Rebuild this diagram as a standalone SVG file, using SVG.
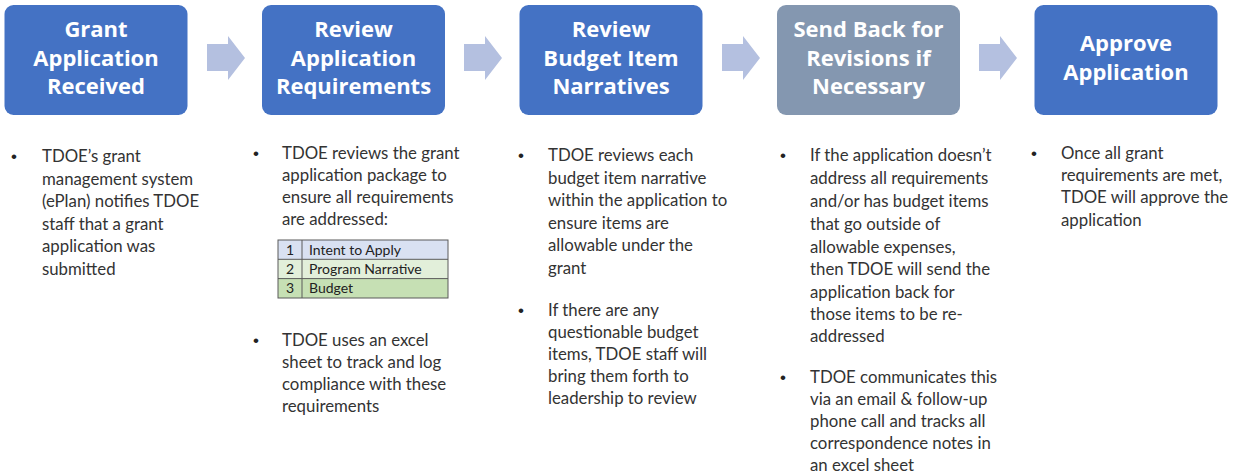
<svg xmlns="http://www.w3.org/2000/svg" width="1237" height="475" viewBox="0 0 1237 475">
<defs>
<style>
.box{fill:#4472C4;}
.box.gray{fill:#8497B0;}
.title{font-family:"Open Sans","Liberation Sans",sans-serif;font-weight:700;font-size:22px;fill:#FFFFFF;text-anchor:middle;}
.body{font-family:Lato,"Liberation Sans",sans-serif;font-size:16.8px;fill:#333333;}
.bul{font-family:"Liberation Sans",sans-serif;font-size:17px;fill:#222222;}
.arrow{fill:#B4C0E0;}
.cell{font-family:Lato,"Liberation Sans",sans-serif;font-size:14px;fill:#222222;}
.grid{fill:none;stroke:#5A5A5A;stroke-width:1;}
</style>
<path id="arr" d="M0,8 H21 V0 L38,22 L21,44 V35 H0 Z"/>
</defs>
<rect width="1237" height="475" fill="#FFFFFF"/>

<g id="connectors">
<use href="#arr" class="arrow" x="207" y="36"/>
<use href="#arr" class="arrow" x="464" y="36"/>
<use href="#arr" class="arrow" x="722" y="36"/>
<use href="#arr" class="arrow" x="979" y="36"/>
</g>

<g id="node1">
<rect class="box" x="4.5" y="5" width="183" height="110" rx="9"/>
<text class="title" x="96" y="37">Grant</text>
<text class="title" x="96" y="66">Application</text>
<text class="title" x="96" y="94">Received</text>
</g>
<g id="node2">
<rect class="box" x="262" y="5" width="183" height="110" rx="9"/>
<text class="title" x="353.5" y="37">Review</text>
<text class="title" x="353.5" y="66">Application</text>
<text class="title" x="353.5" y="94">Requirements</text>
</g>
<g id="node3">
<rect class="box" x="519.5" y="5" width="183" height="110" rx="9"/>
<text class="title" x="611" y="37">Review</text>
<text class="title" x="611" y="66">Budget Item</text>
<text class="title" x="611" y="94">Narratives</text>
</g>
<g id="node4">
<rect class="box gray" x="777" y="5" width="183" height="110" rx="9"/>
<text class="title" x="868.5" y="37">Send Back for</text>
<text class="title" x="868.5" y="66">Revisions if</text>
<text class="title" x="868.5" y="94">Necessary</text>
</g>
<g id="node5">
<rect class="box" x="1034.5" y="5" width="183" height="110" rx="9"/>
<text class="title" x="1126" y="51">Approve</text>
<text class="title" x="1126" y="80">Application</text>
</g>

<g id="desc1">
<text class="bul" x="11" y="162">•</text>
<text class="body" x="42" y="162">TDOE’s grant</text>
<text class="body" x="42" y="184.5">management system</text>
<text class="body" x="42" y="207">(ePlan) notifies TDOE</text>
<text class="body" x="42" y="229.5">staff that a grant</text>
<text class="body" x="42" y="252">application was</text>
<text class="body" x="42" y="274.5">submitted</text>
</g>

<g id="desc2">
<text class="bul" x="253" y="159">•</text>
<text class="body" x="282" y="159">TDOE reviews the grant</text>
<text class="body" x="282" y="181">application package to</text>
<text class="body" x="282" y="203">ensure all requirements</text>
<text class="body" x="282" y="225">are addressed:</text>
<g id="table">
<rect x="278" y="240" width="170" height="19.3" fill="#D9E1F2"/>
<rect x="278" y="259.3" width="170" height="19.3" fill="#E2EFDA"/>
<rect x="278" y="278.6" width="170" height="19.4" fill="#C6E0B4"/>
<rect class="grid" x="278" y="240" width="170" height="58"/>
<line class="grid" x1="278" y1="259.3" x2="448" y2="259.3"/>
<line class="grid" x1="278" y1="278.6" x2="448" y2="278.6"/>
<line class="grid" x1="302" y1="240" x2="302" y2="298"/>
<text class="cell" x="290" y="254.5" text-anchor="middle">1</text>
<text class="cell" x="290" y="273.8" text-anchor="middle">2</text>
<text class="cell" x="290" y="293.1" text-anchor="middle">3</text>
<text class="cell" x="309" y="254.5">Intent to Apply</text>
<text class="cell" x="309" y="273.8">Program Narrative</text>
<text class="cell" x="309" y="293.1">Budget</text>
</g>
<text class="bul" x="253" y="346">•</text>
<text class="body" x="282" y="346">TDOE uses an excel</text>
<text class="body" x="282" y="368">sheet to track and log</text>
<text class="body" x="282" y="390">compliance with these</text>
<text class="body" x="282" y="412">requirements</text>
</g>

<g id="desc3">
<text class="bul" x="518" y="161">•</text>
<text class="body" x="548" y="161">TDOE reviews each</text>
<text class="body" x="548" y="183.5">budget item narrative</text>
<text class="body" x="548" y="206">within the application to</text>
<text class="body" x="548" y="228.5">ensure items are</text>
<text class="body" x="548" y="251">allowable under the</text>
<text class="body" x="548" y="273.5">grant</text>
<text class="bul" x="518" y="316">•</text>
<text class="body" x="548" y="316">If there are any</text>
<text class="body" x="548" y="338">questionable budget</text>
<text class="body" x="548" y="360">items, TDOE staff will</text>
<text class="body" x="548" y="382">bring them forth to</text>
<text class="body" x="548" y="404">leadership to review</text>
</g>

<g id="desc4">
<text class="bul" x="780" y="161">•</text>
<text class="body" x="810" y="161">If the application doesn’t</text>
<text class="body" x="810" y="184">address all requirements</text>
<text class="body" x="810" y="207">and/or has budget items</text>
<text class="body" x="810" y="230">that go outside of</text>
<text class="body" x="810" y="252.5">allowable expenses,</text>
<text class="body" x="810" y="275">then TDOE will send the</text>
<text class="body" x="810" y="297.5">application back for</text>
<text class="body" x="810" y="319.5">those items to be re-</text>
<text class="body" x="810" y="341.5">addressed</text>
<text class="bul" x="780" y="383">•</text>
<text class="body" x="810" y="383">TDOE communicates this</text>
<text class="body" x="810" y="405">via an email &amp; follow-up</text>
<text class="body" x="810" y="427">phone call and tracks all</text>
<text class="body" x="810" y="449">correspondence notes in</text>
<text class="body" x="810" y="470.5">an excel sheet</text>
</g>

<g id="desc5">
<text class="bul" x="1031" y="159">•</text>
<text class="body" x="1061" y="159">Once all grant</text>
<text class="body" x="1061" y="181">requirements are met,</text>
<text class="body" x="1061" y="203">TDOE will approve the</text>
<text class="body" x="1061" y="226">application</text>
</g>
</svg>
